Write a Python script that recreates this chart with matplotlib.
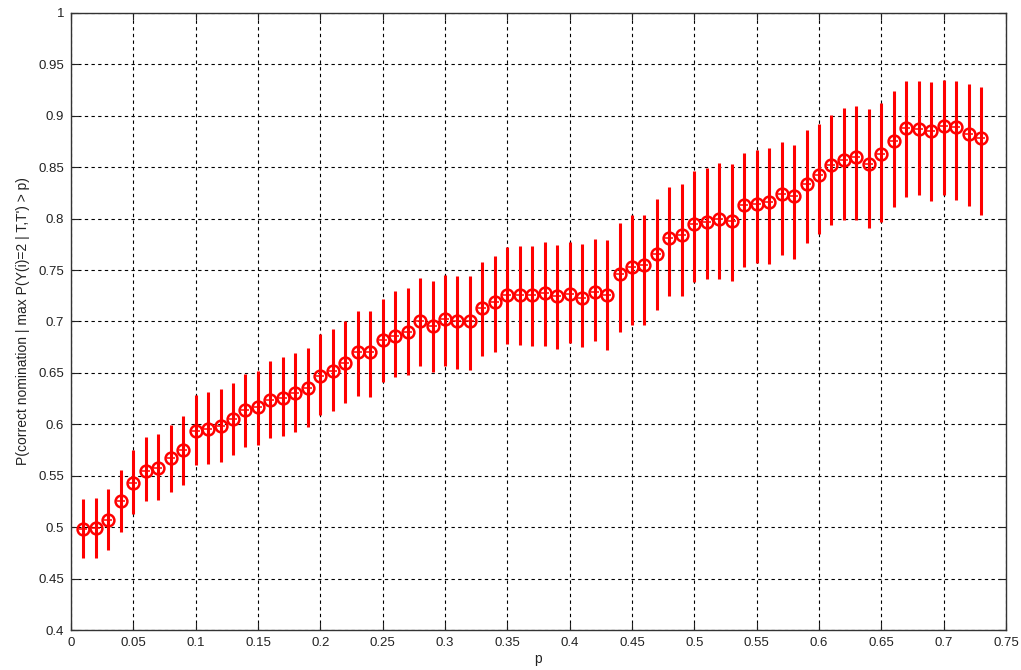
import numpy as np
import matplotlib
matplotlib.use('Agg')
import matplotlib.pyplot as plt

# p thresholds 0.01 .. 0.73
p = [0.01, 0.02, 0.03, 0.04, 0.05, 0.06, 0.07, 0.08, 0.09, 0.10,
     0.11, 0.12, 0.13, 0.14, 0.15, 0.16, 0.17, 0.18, 0.19, 0.20,
     0.21, 0.22, 0.23, 0.24, 0.25, 0.26, 0.27, 0.28, 0.29, 0.30,
     0.31, 0.32, 0.33, 0.34, 0.35, 0.36, 0.37, 0.38, 0.39, 0.40,
     0.41, 0.42, 0.43, 0.44, 0.45, 0.46, 0.47, 0.48, 0.49, 0.50,
     0.51, 0.52, 0.53, 0.54, 0.55, 0.56, 0.57, 0.58, 0.59, 0.60,
     0.61, 0.62, 0.63, 0.64, 0.65, 0.66, 0.67, 0.68, 0.69, 0.70,
     0.71, 0.72, 0.73]

# estimated probability of correct nomination
prob = [0.498, 0.499, 0.507, 0.525, 0.543, 0.555, 0.558, 0.567, 0.575, 0.594,
        0.595, 0.598, 0.605, 0.614, 0.617, 0.624, 0.626, 0.630, 0.635, 0.647,
        0.652, 0.660, 0.670, 0.670, 0.682, 0.686, 0.690, 0.700, 0.696, 0.702,
        0.700, 0.700, 0.713, 0.719, 0.726, 0.726, 0.726, 0.728, 0.725, 0.727,
        0.723, 0.729, 0.726, 0.746, 0.753, 0.755, 0.766, 0.781, 0.784, 0.795,
        0.797, 0.800, 0.798, 0.813, 0.814, 0.816, 0.824, 0.822, 0.834, 0.842,
        0.852, 0.857, 0.860, 0.853, 0.863, 0.876, 0.888, 0.887, 0.885, 0.890,
        0.889, 0.882, 0.878]

# interval ends
upper = [0.527, 0.528, 0.537, 0.556, 0.575, 0.588, 0.591, 0.599, 0.608, 0.629,
         0.631, 0.634, 0.640, 0.649, 0.652, 0.662, 0.665, 0.669, 0.674, 0.688,
         0.693, 0.700, 0.710, 0.710, 0.722, 0.730, 0.733, 0.742, 0.739, 0.745,
         0.744, 0.744, 0.758, 0.764, 0.772, 0.773, 0.773, 0.777, 0.774, 0.777,
         0.775, 0.780, 0.779, 0.796, 0.804, 0.804, 0.819, 0.831, 0.834, 0.846,
         0.849, 0.854, 0.853, 0.864, 0.867, 0.869, 0.875, 0.872, 0.886, 0.892,
         0.901, 0.908, 0.910, 0.907, 0.912, 0.924, 0.934, 0.934, 0.933, 0.935,
         0.934, 0.931, 0.928]

lower = [0.470, 0.470, 0.478, 0.495, 0.513, 0.525, 0.526, 0.534, 0.541, 0.560,
         0.561, 0.563, 0.570, 0.578, 0.580, 0.587, 0.589, 0.593, 0.597, 0.609,
         0.613, 0.621, 0.628, 0.627, 0.641, 0.646, 0.648, 0.657, 0.651, 0.657,
         0.654, 0.653, 0.666, 0.670, 0.678, 0.677, 0.676, 0.676, 0.673, 0.679,
         0.675, 0.681, 0.672, 0.690, 0.697, 0.697, 0.711, 0.725, 0.725, 0.738,
         0.741, 0.741, 0.739, 0.753, 0.757, 0.756, 0.765, 0.761, 0.776, 0.785,
         0.794, 0.799, 0.799, 0.791, 0.797, 0.811, 0.821, 0.823, 0.817, 0.823,
         0.818, 0.812, 0.804]

plt.rcParams['font.family'] = ['Liberation Sans', 'DejaVu Sans']

fig = plt.figure(figsize=(10.21, 6.70), dpi=100)
ax = fig.add_axes([0.0695, 0.0597, 0.9158, 0.9209])

prob_a = np.array(prob)
yerr = [prob_a - np.array(lower), np.array(upper) - prob_a]
ax.errorbar(p, prob, yerr=yerr, fmt='none', ecolor='red', elinewidth=2.2,
            capsize=0, zorder=3)
ax.plot(p, prob, 'o', color='red', mfc='none', mew=1.8, ms=8.5, zorder=4)
ax.plot(p, prob, '+', color='red', mew=1.1, ms=6, zorder=4)

ax.set_xlim(0, 0.75)
ax.set_ylim(0.4, 1)
xt = np.round(np.arange(0, 0.751, 0.05), 2)
yt = np.round(np.arange(0.4, 1.001, 0.05), 2)
ax.set_xticks(xt)
ax.set_yticks(yt)
ax.set_xticklabels(['%g' % v for v in xt])
ax.set_yticklabels(['%g' % v for v in yt])
ax.tick_params(direction='in', top=True, right=True, length=5,
               labelsize=9.5, colors='#222222', pad=5)
ax.grid(True, color='black', linestyle=(0, (3, 3)), linewidth=0.8)
for s in ax.spines.values():
    s.set_color('#333333')
    s.set_linewidth(1.0)

ax.set_xlabel('p', fontsize=10, color='#222222', labelpad=2)
ax.set_ylabel("P(correct nomination | max P(Y(i)=2 | T,T') > p)",
              fontsize=10, color='#222222', labelpad=6)

fig.savefig('out.png', dpi=100)
